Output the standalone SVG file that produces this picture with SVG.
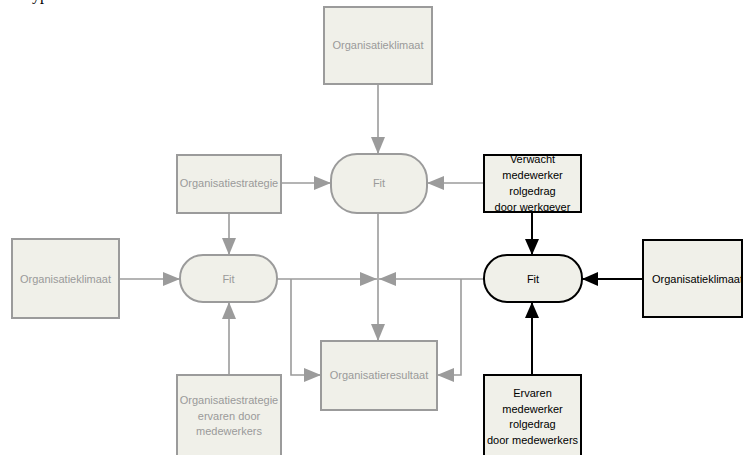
<svg xmlns="http://www.w3.org/2000/svg" width="743" height="455" viewBox="0 0 743 455">
  <defs>
    <marker id="ag" markerWidth="17" markerHeight="14" refX="17" refY="7" orient="auto" markerUnits="userSpaceOnUse">
      <path d="M0,0 L17,7 L0,14 Z" fill="#9b9b9b"/>
    </marker>
    <marker id="ab" markerWidth="16" markerHeight="14" refX="16" refY="7" orient="auto" markerUnits="userSpaceOnUse">
      <path d="M0,0 L16,7 L0,14 Z" fill="#000"/>
    </marker>
  </defs>
  <style>
    text { font-family: "Liberation Sans", Arial, sans-serif; font-size: 11px; text-anchor: middle; }
    .g rect { fill: #f0f0e9; stroke: #9b9b9b; stroke-width: 2; }
    .g text { fill: #9a9a9a; }
    .b rect { fill: #f0f0e9; stroke: #000; stroke-width: 2; }
    .b text { fill: #000; }
    .cg path { stroke: #9b9b9b; stroke-width: 1.6; fill: none; }
    .cg .a { marker-end: url(#ag); }
    .cb path { stroke: #000; stroke-width: 2; fill: none; marker-end: url(#ab); }
    .frag { font-family: "Liberation Serif", "Times New Roman", serif; font-size: 16px; text-anchor: start; fill: #000; }
  </style>

  <rect width="743" height="455" fill="#fff"/>
  <text class="frag" x="32" y="0">yp</text>

  <!-- connectors -->
  <g id="connectors">
    <g class="cg">
      <path class="a" d="M378,84 V154"/>
      <path class="a" d="M282,183 H331"/>
      <path class="a" d="M484,183 H427"/>
      <path class="a" d="M378,213 V341"/>
      <path class="a" d="M229,213 V255"/>
      <path class="a" d="M229,375 V302"/>
      <path class="a" d="M119,279 H180"/>
      <path class="a" d="M277,279 H377"/>
      <path class="a" d="M291,279 V375 H321"/>
      <path class="a" d="M484,279 H379"/>
      <path class="a" d="M461,279 V375 H437"/>
    </g>
    <g class="cb">
      <path d="M532,212 V255"/>
      <path d="M643,279 H582"/>
      <path d="M532,375 V302"/>
    </g>
  </g>

  <!-- nodes -->
  <g id="klimaat-top" class="g">
    <rect x="324" y="7" width="108" height="77"/>
    <text x="378" y="49">Organisatieklimaat</text>
  </g>
  <g id="fit-top" class="g">
    <rect x="331" y="154" width="96" height="59" rx="26" ry="26"/>
    <text x="379" y="187">Fit</text>
  </g>
  <g id="strategie" class="g">
    <rect x="177" y="155" width="104" height="58"/>
    <text x="229" y="187">Organisatiestrategie</text>
  </g>
  <g id="verwacht" class="b">
    <rect x="484" y="155" width="97" height="57"/>
    <text x="532.5" y="163">Verwacht</text>
    <text x="532.5" y="179">medewerker</text>
    <text x="532.5" y="195">rolgedrag</text>
    <text x="532.5" y="211">door werkgever</text>
  </g>
  <g id="klimaat-left" class="g">
    <rect x="12" y="239" width="107" height="79"/>
    <text x="65.5" y="283">Organisatieklimaat</text>
  </g>
  <g id="fit-left" class="g">
    <rect x="180" y="255" width="97" height="47" rx="23" ry="23"/>
    <text x="228.5" y="283">Fit</text>
  </g>
  <g id="fit-right" class="b">
    <rect x="484" y="255" width="98" height="47" rx="23" ry="23"/>
    <text x="533" y="283">Fit</text>
  </g>
  <g id="klimaat-right" class="b">
    <rect x="643" y="240" width="99" height="77"/>
    <text x="697.5" y="283">Organisatieklimaat</text>
  </g>
  <g id="resultaat" class="g">
    <rect x="321" y="341" width="116" height="69"/>
    <text x="379" y="379">Organisatieresultaat</text>
  </g>
  <g id="strategie-ervaren" class="g">
    <rect x="177" y="375" width="104" height="95"/>
    <text x="229" y="404">Organisatiestrategie</text>
    <text x="229" y="419.5">ervaren door</text>
    <text x="229" y="435">medewerkers</text>
  </g>
  <g id="ervaren" class="b">
    <rect x="484" y="375" width="97" height="95"/>
    <text x="532.5" y="397">Ervaren</text>
    <text x="532.5" y="412.5">medewerker</text>
    <text x="532.5" y="428">rolgedrag</text>
    <text x="532.5" y="443.5">door medewerkers</text>
  </g>
</svg>
